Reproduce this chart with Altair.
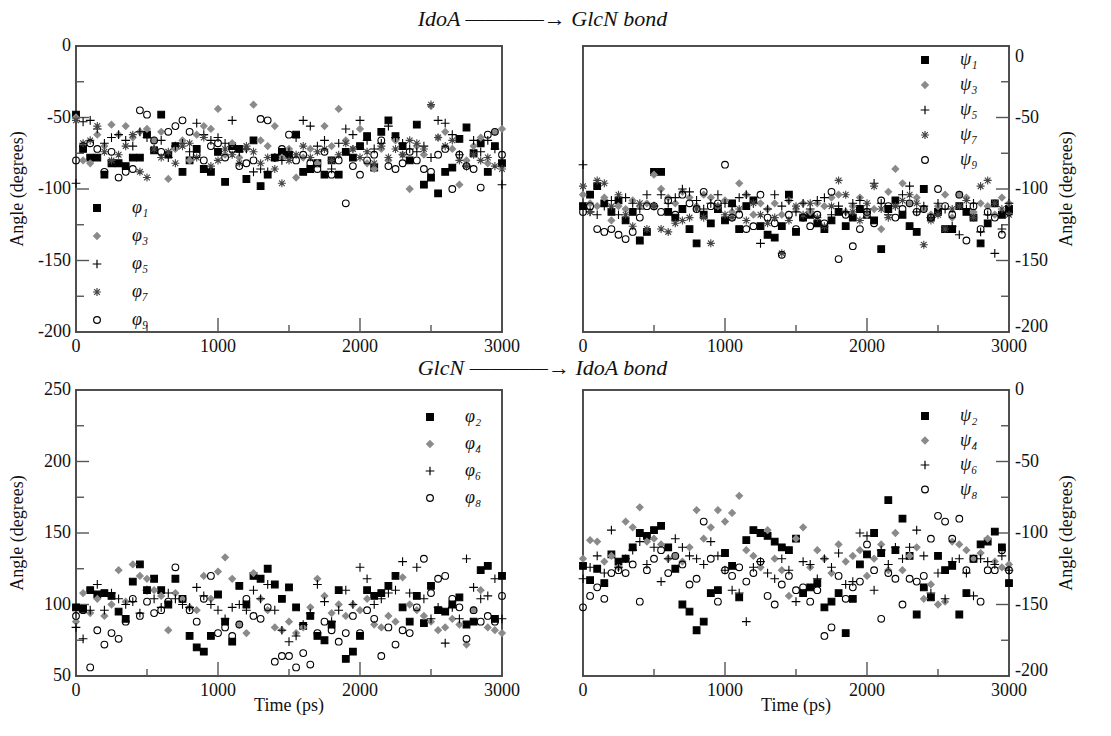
import altair as alt
import pandas as pd

TIME = [0, 50, 100, 150, 200, 250, 300, 350, 400, 450, 500, 550, 600, 650, 700, 750, 800, 850, 900, 950,
        1000, 1050, 1100, 1150, 1200, 1250, 1300, 1350, 1400, 1450, 1500, 1550, 1600, 1650, 1700, 1750,
        1800, 1850, 1900, 1950, 2000, 2050, 2100, 2150, 2200, 2250, 2300, 2350, 2400, 2450, 2500, 2550,
        2600, 2650, 2700, 2750, 2800, 2850, 2900, 2950, 3000]

# ---- IdoA -> GlcN bond, phi (odd) ----
PHI1 = [-48, -72, -78, -78, -90, -82, -82, -84, -78, -78, -62, -73, -48, -76, -70, -88, -80, -72, -86, -88,
        -74, -95, -70, -72, -93, -66, -98, -90, -78, -74, -76, -62, -88, -86, -82, -90, -80, -90, -74, -78,
        -70, -63, -85, -60, -52, -63, -70, -80, -55, -97, -92, -103, -88, -85, -65, -57, -75, -68, -88, -70, -82]
PHI3 = [-50, -80, -82, -62, -70, -55, -62, -56, -64, -60, -58, -66, -60, -93, -72, -66, -80, -62, -56, -58,
        -44, -76, -68, -78, -72, -41, -66, -70, -56, -78, -72, -92, -78, -72, -82, -56, -70, -44, -66, -72,
        -58, -82, -86, -72, -80, -66, -76, -100, -70, -76, -42, -64, -60, -72, -97, -80, -70, -64, -82, -60, -58]
PHI5 = [-96, -53, -52, -58, -68, -64, -62, -66, -70, -60, -64, -72, -66, -78, -70, -68, -74, -54, -62, -66,
        -64, -68, -52, -74, -72, -88, -86, -88, -78, -80, -74, -64, -52, -56, -70, -66, -86, -68, -58, -62,
        -52, -66, -72, -68, -56, -64, -68, -72, -74, -70, -78, -52, -54, -62, -76, -84, -66, -74, -66, -72, -97]
PHI7 = [-52, -68, -66, -56, -74, -80, -76, -70, -62, -88, -92, -72, -78, -74, -82, -70, -68, -78, -64, -84,
        -80, -72, -76, -82, -70, -74, -82, -78, -86, -96, -80, -76, -70, -78, -74, -72, -80, -76, -68, -72,
        -78, -74, -82, -70, -78, -72, -76, -66, -68, -72, -41, -64, -70, -66, -80, -84, -76, -80, -78, -84, -86]
PHI9 = [-80, -70, -68, -72, -88, -74, -92, -88, -86, -45, -48, -66, -74, -60, -56, -52, -60, -76, -80, -70,
        -68, -78, -72, -84, -82, -80, -51, -52, -78, -72, -62, -80, -76, -82, -86, -74, -90, -80, -110, -84,
        -90, -80, -76, -66, -84, -86, -82, -74, -80, -86, -88, -76, -72, -100, -76, -84, -86, -99, -62, -60, -76]

# ---- IdoA -> GlcN bond, psi (odd) ----
PSI1 = [-112, -104, -98, -110, -116, -108, -122, -116, -136, -130, -88, -88, -116, -120, -114, -128, -138, -118, -124, -114,
        -122, -110, -128, -112, -108, -126, -132, -134, -126, -104, -130, -120, -118, -124, -128, -122, -116, -126, -120, -114,
        -118, -122, -142, -114, -108, -118, -126, -130, -100, -120, -116, -128, -128, -112, -116, -120, -138, -124, -110, -118, -114]
PSI3 = [-104, -110, -112, -106, -122, -112, -114, -108, -112, -110, -90, -100, -106, -110, -102, -106, -112, -104, -106, -112,
        -108, -116, -96, -104, -118, -110, -114, -110, -118, -108, -114, -110, -116, -110, -112, -106, -104, -116, -112, -106,
        -118, -114, -128, -102, -86, -96, -110, -106, -114, -118, -112, -104, -120, -104, -106, -116, -110, -112, -118, -106, -110]
PSI5 = [-83, -116, -118, -112, -108, -118, -106, -110, -114, -104, -112, -104, -110, -106, -100, -102, -108, -114, -110, -104,
        -110, -112, -106, -104, -110, -138, -114, -104, -112, -108, -116, -110, -114, -108, -106, -118, -112, -116, -110, -108,
        -114, -96, -110, -118, -112, -104, -98, -116, -112, -120, -110, -114, -126, -132, -114, -110, -130, -118, -145, -128, -110]
PSI7 = [-98, -116, -94, -96, -112, -104, -118, -126, -110, -128, -112, -128, -130, -124, -122, -120, -114, -120, -138, -112,
        -118, -120, -114, -122, -110, -118, -124, -120, -145, -122, -112, -118, -110, -120, -126, -112, -94, -104, -116, -122,
        -110, -98, -114, -120, -112, -108, -104, -110, -139, -122, -118, -128, -114, -112, -108, -120, -98, -94, -110, -114, -118]
PSI9 = [-116, -112, -128, -130, -128, -132, -135, -130, -120, -112, -112, -116, -108, -118, -104, -110, -114, -102, -112, -110,
        -83, -120, -118, -128, -126, -104, -120, -124, -146, -118, -128, -120, -126, -118, -124, -102, -149, -118, -140, -128,
        -116, -124, -108, -112, -120, -114, -110, -116, -114, -120, -100, -112, -118, -104, -136, -112, -128, -116, -120, -132, -116]

# ---- GlcN -> IdoA bond, phi (even) ----
PHI2 = [98, 97, 110, 107, 108, 106, 95, 90, 116, 128, 110, 118, 110, 100, 118, 104, 78, 70, 67, 78,
        107, 88, 74, 113, 100, 120, 118, 125, 114, 104, 112, 98, 85, 92, 78, 75, 86, 110, 62, 67,
        78, 110, 106, 108, 113, 120, 98, 88, 106, 87, 113, 96, 95, 100, 105, 86, 88, 124, 127, 90, 120]
PHI4 = [88, 108, 94, 104, 92, 100, 124, 102, 128, 120, 118, 110, 106, 82, 108, 104, 98, 96, 120, 104,
        123, 133, 118, 86, 80, 122, 104, 96, 84, 82, 88, 80, 84, 98, 118, 106, 94, 100, 92, 100,
        96, 104, 86, 84, 92, 88, 119, 100, 96, 92, 88, 82, 84, 90, 86, 72, 96, 110, 84, 82, 80]
PHI6 = [84, 76, 96, 114, 96, 108, 104, 100, 102, 94, 110, 104, 98, 108, 104, 100, 98, 112, 106, 100,
        96, 90, 98, 100, 96, 110, 104, 114, 96, 82, 74, 78, 86, 94, 114, 102, 88, 96, 110, 100,
        126, 118, 100, 104, 108, 110, 130, 108, 126, 104, 90, 98, 73, 98, 90, 132, 112, 104, 106, 118, 90]
PHI8 = [92, 96, 56, 82, 72, 80, 76, 88, 104, 92, 102, 94, 96, 102, 126, 104, 96, 88, 104, 120,
        80, 84, 78, 86, 104, 92, 90, 98, 60, 64, 64, 56, 66, 58, 80, 88, 82, 74, 80, 92,
        80, 96, 90, 64, 84, 72, 82, 80, 98, 132, 108, 118, 120, 104, 98, 76, 96, 88, 92, 88, 106]

# ---- GlcN -> IdoA bond, psi (even) ----
PSI2 = [-123, -133, -125, -135, -115, -120, -118, -110, -100, -102, -98, -95, -110, -125, -150, -155, -168, -162, -142, -140,
        -114, -123, -145, -105, -98, -100, -102, -106, -110, -112, -104, -142, -138, -135, -152, -148, -142, -170, -146, -122,
        -115, -100, -114, -77, -112, -90, -116, -157, -138, -145, -116, -126, -123, -157, -142, -118, -108, -106, -99, -110, -135]
PSI4 = [-118, -105, -106, -120, -116, -124, -92, -96, -82, -106, -104, -108, -118, -116, -120, -110, -84, -104, -96, -84,
        -92, -86, -74, -112, -116, -124, -98, -118, -126, -144, -104, -96, -124, -112, -118, -128, -108, -120, -116, -112,
        -130, -118, -108, -126, -100, -126, -116, -110, -146, -136, -150, -148, -106, -108, -112, -118, -114, -104, -120, -124, -122]
PSI6 = [-132, -124, -116, -128, -98, -124, -118, -112, -106, -122, -110, -134, -118, -104, -110, -116, -118, -122, -106, -116,
        -126, -140, -142, -162, -124, -120, -128, -132, -118, -126, -148, -120, -122, -132, -118, -124, -114, -136, -134, -100,
        -102, -140, -112, -122, -110, -118, -110, -98, -116, -142, -128, -146, -120, -118, -128, -144, -118, -120, -122, -116, -126]
PSI8 = [-152, -144, -138, -146, -128, -126, -128, -122, -148, -126, -118, -112, -128, -116, -122, -136, -132, -92, -118, -148,
        -126, -130, -124, -134, -128, -120, -144, -150, -136, -130, -140, -138, -148, -140, -172, -166, -130, -146, -138, -134,
        -108, -126, -160, -128, -132, -150, -132, -134, -130, -104, -88, -92, -104, -90, -126, -118, -148, -126, -126, -112, -126]

NAMES_PHI_ODD = ["φ₁", "φ₃", "φ₅", "φ₇", "φ₉"]
NAMES_PSI_ODD = ["ψ₁", "ψ₃", "ψ₅", "ψ₇", "ψ₉"]
NAMES_PHI_EVEN = ["φ₂", "φ₄", "φ₆", "φ₈"]
NAMES_PSI_EVEN = ["ψ₂", "ψ₄", "ψ₆", "ψ₈"]

TITLE_TOP = "IdoA ————→ GlcN bond"
TITLE_BOTTOM = "GlcN ————→ IdoA bond"
Y_TITLE = "Angle (degrees)"
X_TITLE = "Time (ps)"

X_LABELS = [0, 1000, 2000, 3000]
X_MAJOR = [1000, 2000]
X_MINOR = [500, 1500, 2500]
Y_LABELS_NEG = [-200, -150, -100, -50, 0]
Y_MAJOR_NEG = [-150, -100, -50]
Y_MINOR_NEG = [-175, -125, -75, -25]
Y_LABELS_POS = [50, 100, 150, 200, 250]
Y_MAJOR_POS = [100, 150, 200]
Y_MINOR_POS = [75, 125, 175, 225]

FONT = "Liberation Serif"
W, H = 426, 286
AX = "#555555"
TXT = "#111111"
FS = 18

PLUS = "M-1.3,0L1.3,0M0,-1.3L0,1.3"
STAR = "M-1.2,0L1.2,0M0,-1.2L0,1.2M-0.85,-0.85L0.85,0.85M-0.85,0.85L0.85,-0.85"
SHAPES5 = ["square", "diamond", PLUS, STAR, "circle"]
FILLS5 = ["black", "#8a8a8a", "transparent", "transparent", "transparent"]
STROKES5 = ["black", "#8a8a8a", "black", "#444444", "black"]
SHAPES4 = ["square", "diamond", PLUS, "circle"]
FILLS4 = ["black", "#8a8a8a", "transparent", "transparent"]
STROKES4 = ["black", "#8a8a8a", "black", "black"]


def text_layer(df, **kw):
    return alt.Chart(df).mark_text(font=FONT, fontSize=FS, color=TXT, **kw)


def bar(x, x2, y, y2):
    return alt.Chart(pd.DataFrame({"f": [0]})).mark_rect(fill="#444444", strokeWidth=0).encode(
        x=alt.value(x), x2=alt.value(x2), y=alt.value(y), y2=alt.value(y2))


def panel(names, series, shapes, fills, strokes, ydomain, ylabels, ymajor, yminor,
          right, xtitle, top_flush, lx, ly, rowpad):
    rows = []
    for name, vals in zip(names, series):
        for t, v in zip(TIME, vals):
            rows.append({"t": t, "v": v, "s": name})
    df = pd.DataFrame(rows)
    xs = alt.Scale(domain=[0, 3000], nice=False, zero=False)
    ys = alt.Scale(domain=ydomain, nice=False, zero=False)
    legend = alt.Legend(title=None, orient="none", legendX=lx, legendY=ly,
                        labelFont=FONT, labelFontStyle="italic", labelFontSize=FS,
                        labelColor=TXT, symbolSize=45, symbolStrokeWidth=1.2,
                        rowPadding=rowpad, labelOffset=26, padding=0)
    layers = []
    # frame drawn as thin filled bars
    layers += [bar(-0.75, W + 0.75, -0.75, 0.75), bar(-0.75, W + 0.75, H - 0.75, H + 0.75),
               bar(-0.75, 0.75, -0.75, H + 0.75), bar(W - 0.75, W + 0.75, -0.75, H + 0.75)]
    # inward ticks as filled tick marks
    layers.append(alt.Chart(pd.DataFrame({"t": X_MAJOR})).mark_tick(
        color=AX, orient="vertical", size=14, thickness=1.4, opacity=1).encode(
        x=alt.X("t:Q", scale=xs, axis=None), y=alt.value(H - 7)))
    layers.append(alt.Chart(pd.DataFrame({"t": X_MINOR})).mark_tick(
        color=AX, orient="vertical", size=7, thickness=1.4, opacity=1).encode(
        x=alt.X("t:Q", scale=xs, axis=None), y=alt.value(H - 3.5)))
    if right:
        cmaj, cmin = W - 6.5, W - 4
    else:
        cmaj, cmin = 6.5, 4
    layers.append(alt.Chart(pd.DataFrame({"v": ymajor})).mark_tick(
        color=AX, orient="horizontal", size=13, thickness=1.4, opacity=1).encode(
        y=alt.Y("v:Q", scale=ys, axis=None), x=alt.value(cmaj)))
    layers.append(alt.Chart(pd.DataFrame({"v": yminor})).mark_tick(
        color=AX, orient="horizontal", size=8, thickness=1.4, opacity=1).encode(
        y=alt.Y("v:Q", scale=ys, axis=None), x=alt.value(cmin)))
    # data points
    layers.append(alt.Chart(df).mark_point(size=45, strokeWidth=1.1, opacity=1).encode(
        x=alt.X("t:Q", scale=xs, axis=None),
        y=alt.Y("v:Q", scale=ys, axis=None),
        shape=alt.Shape("s:N", scale=alt.Scale(domain=names, range=shapes), legend=legend),
        fill=alt.Fill("s:N", scale=alt.Scale(domain=names, range=fills), legend=legend),
        stroke=alt.Stroke("s:N", scale=alt.Scale(domain=names, range=strokes), legend=legend),
    ))
    # x tick labels
    layers.append(text_layer(pd.DataFrame({"t": X_LABELS, "lab": [str(v) for v in X_LABELS]}),
                             baseline="middle", align="center").encode(
        x=alt.X("t:Q", axis=None), y=alt.value(H + 15), text="lab:N"))
    # y tick labels
    ydf = pd.DataFrame({"v": ylabels, "lab": [str(v) for v in ylabels]})
    if right:
        lab_x, lab_align = W + 6, "left"
    else:
        lab_x, lab_align = -5, "right"
    if right:
        mid = ydf.iloc[1:-1] if top_flush else ydf.iloc[1:]
        layers.append(text_layer(mid, baseline="middle", align=lab_align).encode(
            y=alt.Y("v:Q", axis=None), x=alt.value(lab_x), text="lab:N"))
        layers.append(text_layer(ydf.iloc[:1], baseline="bottom", align=lab_align, dy=4).encode(
            y=alt.Y("v:Q", axis=None), x=alt.value(lab_x), text="lab:N"))
        if top_flush:
            layers.append(text_layer(ydf.iloc[-1:], baseline="top", align=lab_align, dy=2).encode(
                y=alt.Y("v:Q", axis=None), x=alt.value(lab_x), text="lab:N"))
    else:
        layers.append(text_layer(ydf, baseline="middle", align=lab_align).encode(
            y=alt.Y("v:Q", axis=None), x=alt.value(lab_x), text="lab:N"))
    # y title
    ytx = W + 58 if right else -58
    layers.append(text_layer(pd.DataFrame({"lab": [Y_TITLE]}), angle=270, baseline="middle",
                             align="center").encode(
        x=alt.value(ytx), y=alt.value(H / 2), text="lab:N"))
    if xtitle:
        layers.append(text_layer(pd.DataFrame({"lab": [xtitle]}), baseline="middle",
                                 align="center").encode(
            x=alt.value(W / 2), y=alt.value(H + 30), text="lab:N"))
    return alt.layer(*layers).properties(width=W, height=H)


p1 = panel(NAMES_PHI_ODD, [PHI1, PHI3, PHI5, PHI7, PHI9], SHAPES5, FILLS5, STROKES5,
           [-200, 0], Y_LABELS_NEG, Y_MAJOR_NEG, Y_MINOR_NEG, False, None, False, 12, 153, 10)
p2 = panel(NAMES_PSI_ODD, [PSI1, PSI3, PSI5, PSI7, PSI9], SHAPES5, FILLS5, STROKES5,
           [-200, 0], Y_LABELS_NEG, Y_MAJOR_NEG, Y_MINOR_NEG, True, None, True, 333, 5, 7)
p3 = panel(NAMES_PHI_EVEN, [PHI2, PHI4, PHI6, PHI8], SHAPES4, FILLS4, STROKES4,
           [50, 250], Y_LABELS_POS, Y_MAJOR_POS, Y_MINOR_POS, False, X_TITLE, False, 345, 18, 9)
p4 = panel(NAMES_PSI_EVEN, [PSI2, PSI4, PSI6, PSI8], SHAPES4, FILLS4, STROKES4,
           [-200, 0], Y_LABELS_NEG, Y_MAJOR_NEG, Y_MINOR_NEG, True, X_TITLE, False, 333, 17, 6.5)

title_kw = dict(font=FONT, fontStyle="italic", fontSize=22, fontWeight="normal",
                color=TXT, anchor="middle")

res = dict(shape="independent", fill="independent", stroke="independent")

row1 = alt.hconcat(p1, p2, spacing=54,
                   title=alt.TitleParams(TITLE_TOP, offset=5, **title_kw)
                   ).resolve_scale(y="independent", x="independent", **res).resolve_legend(**res)
row2 = alt.hconcat(p3, p4, spacing=54,
                   title=alt.TitleParams(TITLE_BOTTOM, offset=0, **title_kw)
                   ).resolve_scale(y="independent", x="independent", **res).resolve_legend(**res)

chart = alt.vconcat(row1, row2, spacing=0).resolve_scale(
    y="independent", x="independent", **res
).resolve_legend(**res).properties(
    padding={"left": 0, "top": 0, "right": 0, "bottom": 0}, background="white"
).configure_view(stroke="#444444", strokeWidth=1.5)

chart.save("out.html", embed_options={"renderer": "svg", "actions": False})
